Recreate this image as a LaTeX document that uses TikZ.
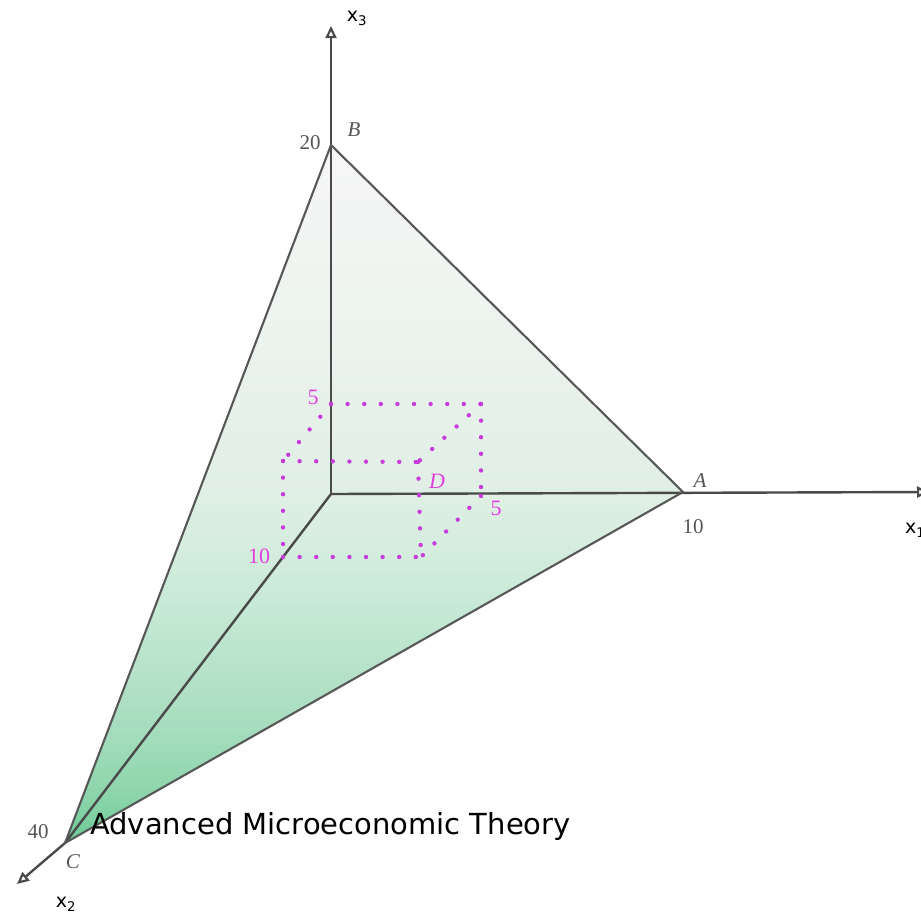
\documentclass[tikz,border=0pt]{standalone}
\usepackage{fontspec}
\setmainfont{Liberation Serif}
\newfontfamily\labelsans{DejaVu Sans}
\usetikzlibrary{arrows.meta}
\definecolor{axisgrey}{HTML}{4A4A4A}
\definecolor{edgegrey}{HTML}{575757}
\definecolor{dotmag}{HTML}{C83CDC}
\definecolor{labmag}{HTML}{E040E0}
\definecolor{numgrey}{HTML}{555555}
\pgfdeclareverticalshading{planeshade}{100bp}{%
  color(0bp)=(rgb,255:red,104;green,202;blue,148);
  color(25bp)=(rgb,255:red,104;green,202;blue,148);
  color(28.1bp)=(rgb,255:red,138;green,212;blue,170);
  color(32.4bp)=(rgb,255:red,162;green,220;blue,187);
  color(35.2bp)=(rgb,255:red,174;green,223;blue,195);
  color(42.4bp)=(rgb,255:red,200;green,234;blue,214);
  color(46bp)=(rgb,255:red,213;green,237;blue,222);
  color(50bp)=(rgb,255:red,224;green,239;blue,229);
  color(63.9bp)=(rgb,255:red,238;green,244;blue,240);
  color(75bp)=(rgb,255:red,246;green,246;blue,246);
  color(100bp)=(rgb,255:red,246;green,246;blue,246)}
\tikzset{
  axisline/.style={draw=axisgrey, line width=2.4pt, line join=round},
  axisarrow/.style={axisline, -{Triangle[open, length=12pt, width=11pt, line width=2.2pt]}},
  edgeline/.style={draw=edgegrey, line width=2.1pt},
  dotline/.style={draw=dotmag, line width=4.4pt, line cap=round, dash pattern=on 0pt off 16.6pt},
  numlabel/.style={text=numgrey, font=\fontsize{21}{23}\selectfont, inner sep=0pt},
  ptlabel/.style={text=numgrey, font=\fontsize{21}{23}\selectfont\itshape, inner sep=0pt},
  maglabel/.style={text=labmag, font=\fontsize{22}{24}\selectfont, inner sep=0pt},
  axlabel/.style={text=black, font=\labelsans\fontsize{19}{22}\selectfont, inner sep=0pt},
}
\begin{document}
\begin{tikzpicture}[x=1pt, y=-1pt]
\useasboundingbox (0,0) rectangle (921,916);
% key points
\coordinate (O) at (331,494);
\coordinate (B) at (331,145);
\coordinate (A) at (683,492);
\coordinate (C) at (65,843);
\coordinate (X3) at (331,26);
\coordinate (X1) at (929,492);
\coordinate (X2) at (17,884);
% shaded plane
\shade[shading=planeshade] (A) -- (B) -- (C) -- cycle;
% axes
\draw[axisarrow] (O) -- (X3);
\draw[axisarrow] (O) -- (X1);
\draw[axisarrow] (O) -- (C) -- (X2);
% plane edges
\draw[edgeline, line join=round] (A) -- (B) -- (C) -- cycle;
% dotted box
\coordinate (P1) at (331,404);
\coordinate (P2) at (481,404);
\coordinate (P3) at (481,496);
\coordinate (P4) at (283,461);
\coordinate (P5) at (418,462);
\coordinate (P6) at (283,557);
\coordinate (P7) at (421,557);
\draw[dotline] (P1) -- (P2);
\draw[dotline] (P2) -- (P3);
\draw[dotline] (P1) -- (P4);
\draw[dotline] (P2) -- (P5);
\draw[dotline] (P3) -- (P7);
\draw[dotline] (P4) -- (P5);
\draw[dotline] (P4) -- (P6);
\draw[dotline] (P5) -- (P7);
\draw[dotline] (P6) -- (P7);
% labels
\node[numlabel] (l20) at (310,143) {20};
\node[ptlabel] (lB) at (354,130) {B};
\node[ptlabel] (lA) at (700,481) {A};
\node[numlabel] (l10) at (693,527) {10};
\node[numlabel] (l40) at (38,832) {40};
\node[ptlabel] (lC) at (73,862) {C};
\node[maglabel] (m5a) at (313,397) {5};
\node[maglabel] (m5b) at (496,508) {5};
\node[maglabel] (m10) at (259,556) {10};
\node[maglabel, font=\fontsize{22}{24}\selectfont\itshape] (mD) at (437,481) {D};
\node[axlabel] (lx3) at (357,18) {x\textsubscript{3}};
\node[axlabel, anchor=west] (lx1) at (905,530) {x\textsubscript{1}};
\node[axlabel] (lx2) at (66,904) {x\textsubscript{2}};
\node[anchor=base west, inner sep=0pt, font=\labelsans\fontsize{29}{32}\selectfont] (title) at (90,834) {Advanced Microeconomic Theory};
\end{tikzpicture}
\end{document}
